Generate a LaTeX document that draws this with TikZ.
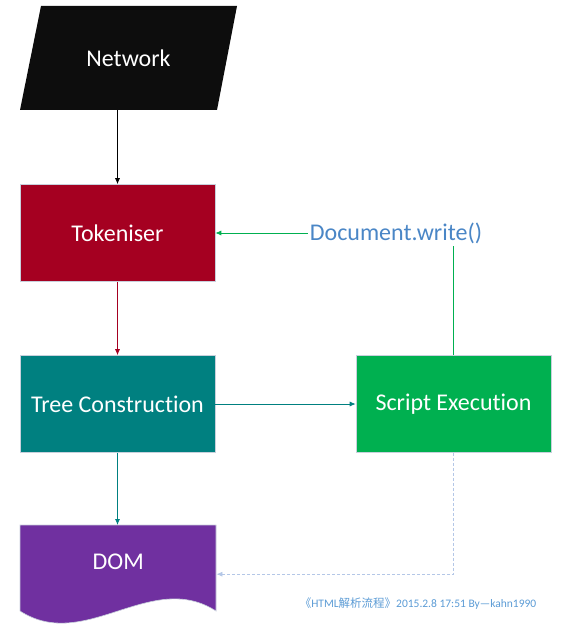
\documentclass[tikz,border=0pt]{standalone}
\usepackage{fontspec}
\setmainfont{Carlito}[Ligatures=NoCommon]
\newfontfamily\cjk{Noto Sans CJK SC}
\usetikzlibrary{arrows.meta,positioning}
\definecolor{netblack}{HTML}{0D0D0D}
\definecolor{tokred}{HTML}{A50021}
\definecolor{treeteal}{HTML}{008080}
\definecolor{scriptgreen}{HTML}{00B050}
\definecolor{dompurple}{HTML}{7030A0}
\definecolor{docblue}{RGB}{74,134,198}
\definecolor{dashblue}{HTML}{B4C7E7}
\definecolor{noteblue}{HTML}{5B9BD5}
\definecolor{boxline}{HTML}{C8D0DC}

\begin{document}
\begin{tikzpicture}[x=1pt,y=-1pt,
box/.style={rectangle, draw=boxline, line width=0.6pt, minimum width=195pt,
minimum height=97pt, inner sep=0pt, text=white, font=\fontsize{24}{28}\selectfont},
label/.style={text=white, font=\fontsize{24}{28}\selectfont},
link/.style={-{Latex[length=6pt,width=5pt]}, line width=0.8pt}]
\useasboundingbox (0,0) rectangle (572,636);

% Network parallelogram
\fill[netblack] (41,6) -- (237,6) -- (217,110) -- (20,110) -- cycle;
\node[label, minimum width=196pt, minimum height=104pt, inner sep=0pt] at (128.5,58) (net) {Network};

\node[box, fill=tokred] at (117.5,233) (tok) {Tokeniser};
\node[box, fill=treeteal] at (117.5,404) (tree) {Tree Construction};
\node[box, fill=scriptgreen] at (453.5,404) (script) {Script Execution};

\node[text=docblue, font=\fontsize{24}{28}\selectfont, inner sep=2pt]
at (396,233) (docw) {Document.write()};

% DOM document shape
\filldraw[fill=dompurple, draw=boxline, line width=0.6pt] (20,525) -- (216,525) -- (216,611)
.. controls (151,569) and (85,653) .. (20,611) -- cycle;
\node[label, minimum width=196pt, minimum height=74pt, inner sep=0pt, anchor=north west]
at (20,525) (dom) {DOM};

\node[text=noteblue, font=\fontsize{11.5}{14}\selectfont] at (418,604) (note)
{{\cjk 《}HTML{\cjk 解析流程》}2015.2.8 17:51 By—kahn1990};

\draw[link, black] (net.south -| tok.north) -- (tok.north);
\draw[link, tokred] (tok.south) -- (tree.north);
\draw[link, treeteal] (tree.south) -- (tree.south |- dom.north);
\draw[link, treeteal] (tree.east) -- (script.west);
\draw[line width=0.8pt, scriptgreen] (script.north) -- (script.north |- docw.south);
\draw[link, scriptgreen] (docw.west) -- (tok.east);
\draw[link, dashblue, dash pattern=on 3pt off 2pt] (script.south) |- ([yshift=-12pt]dom.east);

\end{tikzpicture}
\end{document}
